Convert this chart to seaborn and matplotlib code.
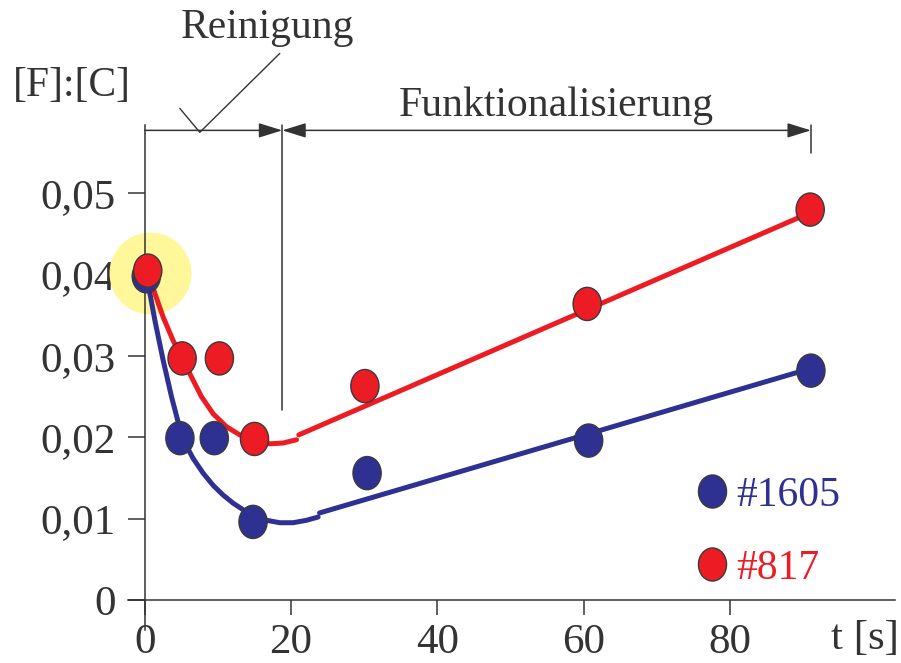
import numpy as np
import pandas as pd
import matplotlib
matplotlib.use("Agg")
import matplotlib.pyplot as plt
import seaborn as sns
from matplotlib.path import Path
from matplotlib.transforms import Affine2D
from matplotlib.lines import Line2D

# Messwerte [F]:[C] über Zeit t [s]
t_1605 = [0.2, 4.8, 9.5, 14.8, 30.4, 60.7, 91.1]
fc_1605 = [0.0398, 0.0199, 0.0199, 0.0096, 0.0156, 0.0196, 0.0282]
t_817 = [0.4, 5.1, 10.2, 15.0, 30.1, 60.5, 91.0]
fc_817 = [0.0405, 0.0297, 0.0297, 0.0198, 0.0263, 0.0364, 0.0480]

# Ausgleichskurven (Reinigung) und Geraden (Funktionalisierung)
kurve_t_1605 = [0.27, 1.37, 2.50, 3.65, 4.55, 5.47, 6.61, 7.97, 9.34, 10.71, 12.08,
                13.44, 14.81, 16.64, 18.46, 20.28, 22.11, 23.70]
kurve_fc_1605 = [0.0398, 0.0344, 0.0295, 0.0250, 0.0219, 0.0193, 0.0174, 0.0156, 0.0141, 0.0129,
                 0.0119, 0.0111, 0.0103, 0.0098, 0.0095, 0.0095, 0.0098, 0.0102]
gerade_t_1605 = [23.9, 91.2]
gerade_fc_1605 = [0.0107, 0.0285]
kurve_t_817 = [0.41, 1.37, 2.50, 3.87, 5.02, 6.39, 7.75, 9.34, 11.17, 12.99, 15.04, 17.09, 18.91, 20.75]
kurve_fc_817 = [0.0405, 0.0377, 0.0348, 0.0319, 0.0299, 0.0274, 0.0250, 0.0229, 0.0213, 0.0203,
                0.0197, 0.0192, 0.0193, 0.0197]
gerade_t_817 = [21.06, 91.2]
gerade_fc_817 = [0.0203, 0.0477]

x_ticks = [0, 20, 40, 60, 80]
y_ticks = [0, 0.01, 0.02, 0.03, 0.04, 0.05]
y_labels = ["0", "0,01", "0,02", "0,03", "0,04", "0,05"]

BLAU = "#2e3192"
ROT = "#ed1c24"
GRAU = "#333333"

sns.set_style("ticks")
plt.rcParams["font.family"] = ["Liberation Serif", "DejaVu Serif"]

W, H = 901, 663
fig = plt.figure(figsize=(W / 100, H / 100), dpi=100)
ax = fig.add_axes([128 / W, 1 - 630 / H, (895 - 128) / W, (630 - 125) / H])
ax.set_xlim(-2.3, 102.6)
ax.set_ylim(-0.00369, 0.0584)

# leicht ovale Marker
oval = Path.unit_circle().transformed(Affine2D().scale(0.85, 1.0))

# gelbe Hervorhebung am Startpunkt
ax.scatter([0.7], [0.0402], s=3480, color="#fff79a", linewidths=0, zorder=1, clip_on=False)

for kt, kf, gt, gf, farbe in [
    (kurve_t_1605, kurve_fc_1605, gerade_t_1605, gerade_fc_1605, BLAU),
    (kurve_t_817, kurve_fc_817, gerade_t_817, gerade_fc_817, ROT),
]:
    sns.lineplot(x=kt, y=kf, ax=ax, color=farbe, lw=3.6, sort=False, estimator=None, zorder=2)
    sns.lineplot(x=gt, y=gf, ax=ax, color=farbe, lw=3.6, sort=False, estimator=None, zorder=2)

df = pd.DataFrame({
    "t": t_1605 + t_817,
    "fc": fc_1605 + fc_817,
    "probe": ["#1605"] * len(t_1605) + ["#817"] * len(t_817),
})
sns.scatterplot(data=df, x="t", y="fc", hue="probe", palette={"#1605": BLAU, "#817": ROT},
                marker=oval, s=570, edgecolor="#3a3a3a", linewidth=1.0, legend=False, ax=ax,
                zorder=3, clip_on=False)

# Achsen durch den Nullpunkt
sns.despine(ax=ax)
for s in ["left", "bottom"]:
    ax.spines[s].set_position(("data", 0))
    ax.spines[s].set_color(GRAU)
    ax.spines[s].set_linewidth(1.1)
ax.set_xticks(x_ticks)
ax.set_xticklabels([str(v) for v in x_ticks])
ax.set_yticks(y_ticks)
ax.set_yticklabels(y_labels)
ax.tick_params(axis="x", length=11, width=1.1, color=GRAU, pad=6, labelsize=31, labelcolor=GRAU)
ax.tick_params(axis="y", length=12, width=1.1, color=GRAU, pad=9, labelsize=31, labelcolor=GRAU)
ax.set_xlabel("")
ax.set_ylabel("")

# Klammern oben
yb = 0.05774
pfeil = "head_length=1.45,head_width=0.45"
ax.annotate("", xy=(18.8, yb), xytext=(0, yb), annotation_clip=False,
            arrowprops=dict(arrowstyle="-|>," + pfeil, color=GRAU, lw=1.1, shrinkA=0, shrinkB=0))
ax.annotate("", xy=(91.1, yb), xytext=(18.8, yb), annotation_clip=False,
            arrowprops=dict(arrowstyle="<|-|>," + pfeil, color=GRAU, lw=1.1, shrinkA=0, shrinkB=0))
ax.plot([18.8, 18.8], [0.0584, 0.0233], color=GRAU, lw=1.1, clip_on=False)
ax.plot([91.1, 91.1], [0.0584, 0.0550], color=GRAU, lw=1.1, clip_on=False)
ax.plot([4.79, 7.52, 18.46], [0.06044, 0.0575, 0.0672], color=GRAU, lw=1.0, clip_on=False)

fig.text(267 / W, 1 - 28 / H, "Reinigung", fontsize=30, color=GRAU, ha="center", va="center")
fig.text(556 / W, 1 - 106 / H, "Funktionalisierung", fontsize=30, color=GRAU, ha="center", va="center")
fig.text(72 / W, 1 - 86 / H, "[F]:[C]", fontsize=30, color=GRAU, ha="center", va="center")
fig.text(865 / W, 1 - 639 / H, "t [s]", fontsize=31, color=GRAU, ha="center", va="center")

# Legende
griffe = [Line2D([], [], marker=oval, linestyle="", markersize=23.8, markerfacecolor=c,
                 markeredgecolor="#3a3a3a", markeredgewidth=1.0) for c in [BLAU, ROT]]
fig.legend(griffe, ["#1605", "#817"], loc="center left", bbox_to_anchor=(697 / W, 1 - 532 / H),
           frameon=False, fontsize=30, labelcolor=[BLAU, ROT], handlelength=0.7,
           handletextpad=0.25, labelspacing=0.82, borderpad=0, borderaxespad=0)

fig.savefig("out.png", dpi=100)
